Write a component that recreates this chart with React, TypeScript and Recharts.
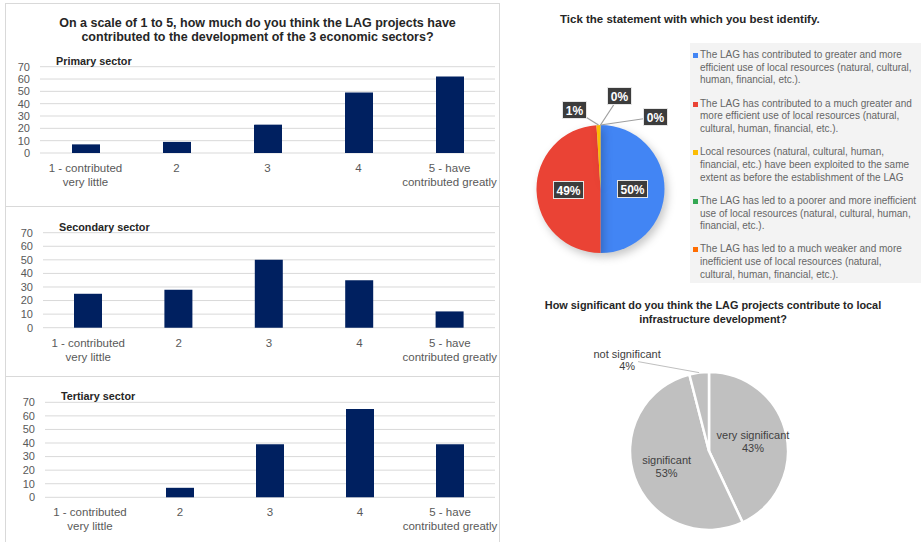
import { Bar, BarChart, CartesianGrid, Cell, Pie, PieChart, XAxis, YAxis } from 'recharts';

const FONT = '"Liberation Sans", Arial, sans-serif';

const categories = ['1 - contributed\nvery little', '2', '3', '4', '5 - have\ncontributed greatly'];
const primaryValues = [7, 9, 23, 49, 62];
const secondaryValues = [25, 28, 50, 35, 12];
const tertiaryValues = [0, 7, 39, 65, 39];
const yTicks = [0, 10, 20, 30, 40, 50, 60, 70];

const statementLabels = [
  'The LAG has contributed to greater and more\nefficient use of local resources (natural, cultural,\nhuman, financial, etc.).',
  'The LAG has contributed to a much greater and\nmore efficient use of local resources (natural,\ncultural, human, financial, etc.).',
  'Local resources (natural, cultural, human,\nfinancial, etc.) have been exploited to the same\nextent as before the establishment of the LAG',
  'The LAG has led to a poorer and more inefficient\nuse of local resources (natural, cultural, human,\nfinancial, etc.).',
  'The LAG has led to a much weaker and more\ninefficient use of local resources (natural,\ncultural, human, financial, etc.).',
];
const statementShares = [50, 49, 1, 0, 0];
const statementColors = ['#4285f4', '#ea4335', '#fbbc04', '#34a853', '#ff6d01'];

const infraLabels = ['very significant', 'significant', 'not significant'];
const infraShares = [43, 53, 4];

const RAD = Math.PI / 180;
const polar = (cx: number, cy: number, r: number, angle: number) => ({
  x: cx + r * Math.cos(-angle * RAD),
  y: cy + r * Math.sin(-angle * RAD),
});

function CategoryTick({ x, y, payload }: any) {
  const lines = String(payload.value).split('\n');
  return (
    <text x={x} y={y} textAnchor="middle" fill="#595959" fontSize={11.5} fontFamily={FONT}>
      {lines.map((l, i) => (
        <tspan key={i} x={x} dy={i === 0 ? 17 : 14}>{l}</tspan>
      ))}
    </text>
  );
}

function SectorChart({ title, values, top, plotTop, plotBottom, plotLeft, height }: { title: string; values: number[]; top: number; plotTop: number; plotBottom: number; plotLeft: number; height: number }) {
  const data = categories.map((c, i) => ({ category: c, value: values[i] }));
  const xAxisH = 40;
  const mTop = plotTop - top;
  const mBottom = height - (plotBottom - top) - xAxisH;
  return (
    <div style={{ position: 'absolute', left: 0, top, width: 500, height }}>
      <BarChart width={500} height={height} data={data} margin={{ top: mTop, right: 5, left: 0, bottom: mBottom }}>
        <CartesianGrid vertical={false} stroke="#d9d9d9" />
        <XAxis dataKey="category" axisLine={false} tickLine={false} tickSize={0} height={xAxisH} interval={0} tick={<CategoryTick />} />
        <YAxis width={plotLeft} domain={[0, 70]} ticks={yTicks} interval={0} axisLine={false} tickLine={false} tickSize={0} tickMargin={10} tick={{ fill: '#595959', fontSize: 11, fontFamily: FONT }} />
        <Bar dataKey="value" fill="#002060" barSize={28} isAnimationActive={false} />
      </BarChart>
      <div style={{ position: 'absolute', left: plotLeft + 16, top: mTop - 12, fontSize: 10.8, fontWeight: 700, color: '#262626', fontFamily: FONT }}>{title}</div>
    </div>
  );
}

const calloutOffsets: Record<number, { dx: number; dy: number }> = {
  2: { dx: -26, dy: -79 },
  3: { dx: 19, dy: -93 },
  4: { dx: 55, dy: -72 },
};

function StatementLabel(props: any) {
  const { cx, cy, midAngle, outerRadius, percent, index } = props;
  const text = `${Math.round(percent * 100)}%`;
  const w = text.length > 2 ? 30 : 24;
  const h = 17;
  if (percent > 0.05) {
    const p = polar(cx, cy, outerRadius * 0.5, midAngle);
    return (
      <g>
        <rect x={p.x - w / 2} y={p.y - h / 2} width={w} height={h} fill="#3c3c3c" stroke="#e6e6e6" strokeWidth={1} />
        <text x={p.x} y={p.y + 4.5} textAnchor="middle" fill="#fff" fontSize={12} fontWeight={700} fontFamily={FONT}>{text}</text>
      </g>
    );
  }
  const off = calloutOffsets[index] ?? { dx: 0, dy: -90 };
  const edge = polar(cx, cy, outerRadius, midAngle);
  const bx = cx + off.dx;
  const by = cy + off.dy;
  return (
    <g>
      <line x1={edge.x} y1={edge.y} x2={bx} y2={by} stroke="#9e9e9e" strokeWidth={1.2} />
      <rect x={bx - w / 2} y={by - h / 2} width={w} height={h} fill="#3c3c3c" stroke="#e6e6e6" strokeWidth={1} />
      <text x={bx} y={by + 4.5} textAnchor="middle" fill="#fff" fontSize={12} fontWeight={700} fontFamily={FONT}>{text}</text>
    </g>
  );
}

function InfraLabel(props: any) {
  const { cx, cy, midAngle, outerRadius, percent, payload } = props;
  const text = `${Math.round(percent * 100)}%`;
  const name = payload?.name ?? props.name;
  if (percent > 0.1) {
    const p = polar(cx, cy, outerRadius * 0.57, midAngle);
    return (
      <text x={p.x} y={p.y - 2} textAnchor="middle" fill="#404040" fontSize={11} fontFamily={FONT}>
        <tspan x={p.x} dy={0}>{name}</tspan>
        <tspan x={p.x} dy={12.5}>{text}</tspan>
      </text>
    );
  }
  const edge = polar(cx, cy, outerRadius, midAngle);
  const lx = edge.x - 61;
  const ly = edge.y - 11;
  return (
    <g>
      <line x1={edge.x} y1={edge.y} x2={lx} y2={ly} stroke="#bfbfbf" strokeWidth={1} />
      <text x={lx - 11} y={ly - 4} textAnchor="middle" fill="#404040" fontSize={11} fontFamily={FONT}>
        <tspan x={lx - 11} dy={0}>{name}</tspan>
        <tspan x={lx - 11} dy={12.5}>{text}</tspan>
      </text>
    </g>
  );
}

export default function App() {
  const statementData = statementLabels.map((name, i) => ({ name, value: statementShares[i] }));
  const infraData = infraLabels.map((name, i) => ({ name, value: infraShares[i] }));

  return (
    <div style={{ position: 'fixed', left: 0, top: 0, width: 921, height: 542, background: '#fff', fontFamily: FONT, overflow: 'hidden' }}>
      {/* left panel frame */}
      <div style={{ position: 'absolute', left: 5, top: 3, width: 495, height: 540, border: '1px solid #d9d9d9', boxSizing: 'border-box' }} />
      <div style={{ position: 'absolute', left: 5, top: 206, width: 495, height: 1, background: '#d9d9d9' }} />
      <div style={{ position: 'absolute', left: 5, top: 376, width: 495, height: 1, background: '#d9d9d9' }} />
      <div style={{ position: 'absolute', left: 5, top: 16, width: 505, textAlign: 'center', fontSize: 12.5, fontWeight: 700, lineHeight: '14px', color: '#262626' }}>
        On a scale of 1 to 5, how much do you think the LAG projects have
        <br />
        contributed to the development of the 3 economic sectors?
      </div>

      <SectorChart title="Primary sector" values={primaryValues} top={55} plotTop={66.7} plotBottom={153} plotLeft={40} height={145} />
      <SectorChart title="Secondary sector" values={secondaryValues} top={220} plotTop={232.7} plotBottom={327.7} plotLeft={43} height={150} />
      <SectorChart title="Tertiary sector" values={tertiaryValues} top={390} plotTop={402.3} plotBottom={497.3} plotLeft={45} height={150} />

      {/* statement pie */}
      <div style={{ position: 'absolute', left: 560, top: 13, fontSize: 11.5, fontWeight: 700, color: '#262626' }}>Tick the statement with which you best identify.</div>
      <div style={{ position: 'absolute', left: 510, top: 80 }}>
        <PieChart width={180} height={190} margin={{ top: 0, right: 0, bottom: 0, left: 0 }}>
          <Pie data={statementData} dataKey="value" cx={90.5} cy={109} outerRadius={64} startAngle={90} endAngle={-270} labelLine={false} label={StatementLabel} isAnimationActive={false}>
            {statementData.map((_, i) => (
              <Cell key={i} fill={statementColors[i]} stroke="none" style={{ filter: 'drop-shadow(3px 4px 4px rgba(0,0,0,0.22))' }} />
            ))}
          </Pie>
        </PieChart>
      </div>
      <div style={{ position: 'absolute', left: 690, top: 43, width: 231, height: 240, background: '#f3f3f3', paddingTop: 6, boxSizing: 'border-box' }}>
        {statementLabels.map((label, i) => (
          <div key={i} style={{ position: 'relative', paddingLeft: 10, marginBottom: 10.5, fontSize: 10, lineHeight: '12.7px', color: '#666', whiteSpace: 'pre' }}>
            <span style={{ position: 'absolute', left: 3, top: 4, width: 5, height: 5, background: statementColors[i] }} />
            {label}
          </div>
        ))}
      </div>

      {/* infrastructure pie */}
      <div style={{ position: 'absolute', left: 530, top: 298, width: 366, textAlign: 'center', fontSize: 10.9, fontWeight: 700, lineHeight: '14px', color: '#262626', whiteSpace: 'nowrap' }}>
        How significant do you think the LAG projects contribute to local
        <br />
        infrastructure development?
      </div>
      <div style={{ position: 'absolute', left: 560, top: 340 }}>
        <PieChart width={300} height={200} margin={{ top: 0, right: 0, bottom: 0, left: 0 }}>
          <Pie data={infraData} dataKey="value" cx={149} cy={111} outerRadius={79} startAngle={90} endAngle={-270} labelLine={false} label={InfraLabel} isAnimationActive={false}>
            {infraData.map((_, i) => (
              <Cell key={i} fill="#c0c0c0" stroke="#ffffff" strokeWidth={2.5} />
            ))}
          </Pie>
        </PieChart>
      </div>
    </div>
  );
}
